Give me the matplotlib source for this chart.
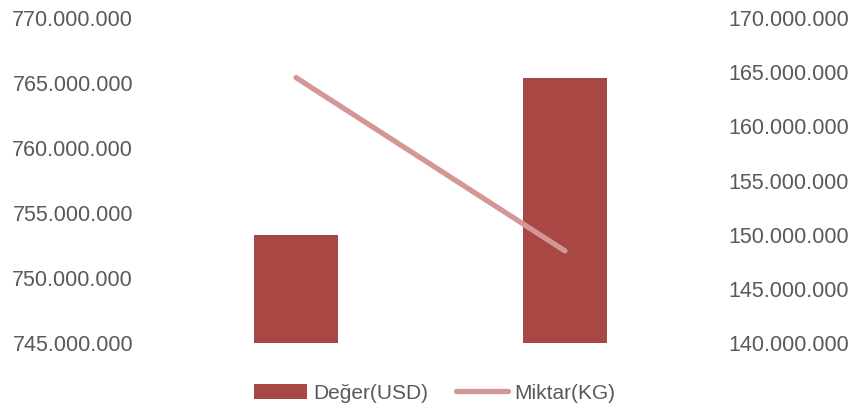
import matplotlib.pyplot as plt
from matplotlib.ticker import FuncFormatter

# Data
categories = ['2022', '2023']
deger_usd = [753_300_000, 765_400_000]
miktar_kg = [164_500_000, 148_500_000]

left_ticks = [745_000_000, 750_000_000, 755_000_000, 760_000_000, 765_000_000, 770_000_000]
right_ticks = [140_000_000, 145_000_000, 150_000_000, 155_000_000, 160_000_000, 165_000_000, 170_000_000]

bar_color = '#A94745'
line_color = '#D49797'
text_color = '#595959'

plt.rcParams['font.family'] = ['Liberation Sans', 'DejaVu Sans']

def dotted(v, pos):
    return f'{int(round(v)):,}'.replace(',', '.')

fig = plt.figure(figsize=(8.51, 4.11), dpi=100)
ax = fig.add_axes([161.5 / 851, 1 - 343 / 411, 538 / 851, 325 / 411])
ax2 = ax.twinx()

x = list(range(len(categories)))
ax.bar(x, deger_usd, width=0.31, color=bar_color, label='Değer(USD)', zorder=2)
ax2.plot(x, miktar_kg, color=line_color, linewidth=3.8, solid_capstyle='round', label='Miktar(KG)', zorder=3)

ax.set_xlim(-0.5, 1.5)
ax.set_ylim(left_ticks[0], left_ticks[-1])
ax2.set_ylim(right_ticks[0], right_ticks[-1])
ax.set_yticks(left_ticks)
ax2.set_yticks(right_ticks)
ax.yaxis.set_major_formatter(FuncFormatter(dotted))
ax2.yaxis.set_major_formatter(FuncFormatter(dotted))
ax.set_xticks([])

for a in (ax, ax2):
    for s in a.spines.values():
        s.set_visible(False)
    a.tick_params(axis='y', length=0, labelsize=15.5, colors=text_color, pad=20.5)

h1, l1 = ax.get_legend_handles_labels()
h2, l2 = ax2.get_legend_handles_labels()
fig.legend(h1 + h2, l1 + l2, loc='center', bbox_to_anchor=(0.511, 1 - 393 / 411),
           ncol=2, frameon=False, fontsize=15, labelcolor=text_color,
           handlelength=2.5, handletextpad=0.3, columnspacing=1.35, handleheight=0.7)

fig.savefig('out.png', dpi=100)
